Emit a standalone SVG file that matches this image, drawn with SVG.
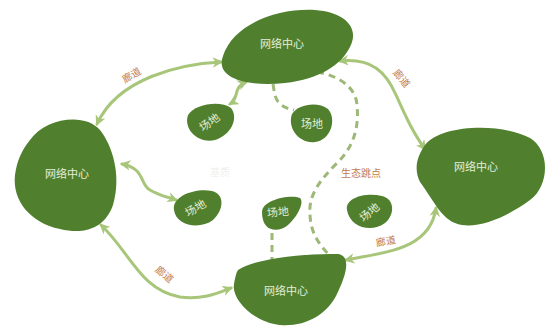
<svg xmlns="http://www.w3.org/2000/svg" width="547" height="326" viewBox="0 0 547 326">
<style>
.blob{fill:#50802e}
.nt{font-family:"Noto Sans CJK SC",sans-serif;font-size:11px;fill:#e4eed8;text-anchor:middle;dominant-baseline:middle}
.st{font-family:"Noto Sans CJK SC",sans-serif;font-size:11px;fill:#e4eed8;text-anchor:middle;dominant-baseline:middle}
.cor{fill:none;stroke:#a8c67a;stroke-width:3;stroke-linecap:round}
.dash{fill:none;stroke:#9eb878;stroke-width:3;stroke-dasharray:7 5}
.lab{font-family:"Noto Sans CJK SC",sans-serif;font-size:10px;fill:#c27a4c;text-anchor:middle;dominant-baseline:middle}
</style>
<defs>
<marker id="ah" viewBox="0 0 10 10" refX="8" refY="5" markerWidth="3.5" markerHeight="3.5" orient="auto-start-reverse">
<path d="M0,0 L10,5 L0,10 L3,5 Z" fill="#a8c67a"/>
</marker>
</defs>
<rect width="547" height="326" fill="#ffffff"/>
<g id="connectors">
<path class="cor" d="M221,62 C180,64 118,78 97,124" marker-start="url(#ah)" marker-end="url(#ah)"/>
<path class="cor" d="M340,61 C372,58 386,72 396,95 C405,115 413,133 425,149" marker-start="url(#ah)" marker-end="url(#ah)"/>
<path class="cor" d="M101,225 C130,252 140,290 180,297 C205,300 220,292 231,288" marker-start="url(#ah)" marker-end="url(#ah)"/>
<path class="cor" d="M346,260 C385,252 430,250 436,208" marker-start="url(#ah)" marker-end="url(#ah)"/>
<path class="cor" d="M246,82 C232,88 240,98 230,104" marker-start="url(#ah)" marker-end="url(#ah)"/>
<path class="cor" d="M122,164 C145,168 140,185 150,190 C160,196 168,197 176,200" marker-start="url(#ah)" marker-end="url(#ah)"/>
<path class="dash" d="M273,84 C275,95 274,106 294,110"/>
<path class="dash" d="M317,72 C340,76 356,88 357,105 C359,125 355,145 338,162 C320,180 308,195 310,215 C311,235 320,245 330,256"/>
<path class="dash" d="M272,233 L272,262"/>
<text class="lab" transform="translate(132,76) rotate(-30)">廊道</text>
<text class="lab" transform="translate(401,79) rotate(50)">廊道</text>
<text class="lab" transform="translate(164,275) rotate(40)">廊道</text>
<text class="lab" transform="translate(386,242) rotate(-10)">廊道</text>
<text class="lab" x="361" y="174">生态跳点</text>
<text x="220" y="173" style="font-family:'Noto Sans CJK SC',sans-serif;font-size:10px;fill:#f0f1ee;text-anchor:middle;dominant-baseline:middle">基质</text>
</g>
<g id="center-top">
<path class="blob" d="M223,56 C233,25 275,8 315,10 C345,12 360,28 350,47 C341,65 320,79 285,83 C252,87 214,80 223,56 Z"/>
<text class="nt" x="282" y="45">网络中心</text>
</g>
<g id="center-left">
<path class="blob" d="M30,140 C45,118 85,112 100,130 C112,145 122,175 113,205 C105,228 85,235 60,229 C30,223 12,200 15,175 C17,160 22,150 30,140 Z"/>
<text class="nt" x="67" y="175">网络中心</text>
</g>
<g id="center-right">
<path class="blob" d="M425,145 C440,125 500,122 530,138 C550,150 550,185 530,200 C510,215 482,228 462,225 C442,222 435,202 420,182 C413,168 418,155 425,145 Z"/>
<text class="nt" x="476" y="168">网络中心</text>
</g>
<g id="center-bottom">
<path class="blob" d="M238,270 C255,258 310,253 338,254 C352,256 346,276 336,296 C326,315 305,327 280,325 C255,323 231,300 234,284 C235,278 236,273 238,270 Z"/>
<text class="nt" x="286" y="292">网络中心</text>
</g>
<g id="site-1">
<path class="blob" d="M188,115 C195,104 220,100 231,108 C239,118 231,135 215,140 C199,144 183,130 188,115 Z"/>
<text class="st" transform="translate(210,123) rotate(-35)">场地</text>
</g>
<g id="site-2">
<path class="blob" d="M292,114 C298,104 318,101 328,109 C337,119 331,140 315,142 C299,144 287,128 292,114 Z"/>
<text class="st" x="312" y="125">场地</text>
</g>
<g id="site-3">
<path class="blob" d="M174,210 C172,196 195,188 212,191 C225,194 224,210 213,220 C200,230 176,226 174,210 Z"/>
<text class="st" transform="translate(196,209) rotate(-30)">场地</text>
</g>
<g id="site-4">
<path class="blob" d="M262,212 C262,200 290,194 300,198 C305,203 296,218 288,225 C280,232 262,234 262,212 Z"/>
<text class="st" transform="translate(278,213) rotate(-5)">场地</text>
</g>
<g id="site-5">
<path class="blob" d="M347,210 C345,198 365,192 382,196 C395,199 395,215 385,223 C372,233 350,228 347,210 Z"/>
<text class="st" transform="translate(370,213) rotate(-40)">场地</text>
</g>
</svg>
